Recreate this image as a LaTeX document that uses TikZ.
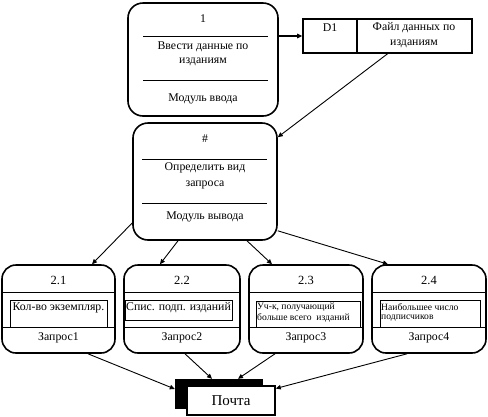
\documentclass[tikz,border=0pt]{standalone}
\usepackage{fontspec}
\setmainfont{Liberation Serif}
\usetikzlibrary{arrows.meta,calc}
\begin{document}
\begin{tikzpicture}[x=1pt,y=-1pt,
  rbox/.style={draw,line width=1.6pt,rounded corners=15pt,inner sep=0pt},
  qbox/.style={draw,line width=1.6pt,rounded corners=14pt,inner sep=0pt,minimum height=88pt},
  sep/.style={line width=0.8pt},
  irect/.style={draw,line width=0.7pt},
  lbl/.style={font=\fontsize{11.8}{14.5}\selectfont,align=center,inner sep=0pt},
  small/.style={font=\fontsize{9.6}{10.5}\selectfont,align=left,inner sep=0pt,anchor=west},
  arr/.style={line width=0.9pt,-{Triangle[length=5pt,width=4.5pt]}}]
\useasboundingbox (0,0) rectangle (488,416);
% box 1
\node[rbox,minimum width=150pt,minimum height=113pt] (b1) at (203,59.5) {};
\draw[sep] (143,36) -- (268,36);
\draw[sep] (143,80) -- (268,80);
\node[lbl] (b1n) at (203,19) {1};
\node[lbl] (b1t) at (203,54) {Ввести данные по\\изданиям};
\node[lbl] (b1m) at (203,99) {Модуль ввода};
% D1
\node[draw,line width=1.6pt,minimum width=169pt,minimum height=34pt,inner sep=0pt] (d1) at (387.5,36) {};
\draw[line width=1.6pt] (357,19) -- (357,53);
\node[lbl] (d1a) at (330,28) {D1};
\node[lbl] (d1b) at (414,35) {Файл данных по\\изданиям};
% box #
\node[rbox,minimum width=144pt,minimum height=117pt] (q) at (205,181.5) {};
\draw[sep] (142,159) -- (267,159);
\draw[sep] (142,203) -- (267,203);
\node[lbl] (qn) at (205,139) {\#};
\node[lbl,font=\fontsize{11.8}{16}\selectfont] (qt) at (205,176) {Определить вид\\запроса};
\node[lbl] (qm) at (205,217) {Модуль вывода};
% bottom boxes
\node[qbox,minimum width=113pt] (b21) at (58.5,309) {};
\node[qbox,minimum width=116pt] (b22) at (182,309) {};
\node[qbox,minimum width=114pt] (b23) at (306,309) {};
\node[qbox,minimum width=114pt] (b24) at (429,309) {};
\foreach \n in {b21,b22,b23,b24}{
  \draw[sep] (\n.west |- 0,292) -- (\n.east |- 0,292);
  \draw[sep] (\n.west |- 0,327) -- (\n.east |- 0,327);
}
\draw[irect] (10,300) rectangle (107,327);
\draw[irect] (125,300) rectangle (232,320);
\draw[irect] (256,301) rectangle (360,327);
\draw[irect] (380,300) rectangle (480,327);
\node[lbl,font=\fontsize{12.5}{14}\selectfont] (n21) at (58.5,280) {2.1};
\node[lbl,font=\fontsize{12.5}{14}\selectfont] (n22) at (182,280) {2.2};
\node[lbl,font=\fontsize{12.5}{14}\selectfont] (n23) at (306,280) {2.3};
\node[lbl,font=\fontsize{12.5}{14}\selectfont] (n24) at (429,280) {2.4};
\node[lbl] (t21) at (58.5,308) {Кол-во экземпляр.};
\node[lbl] (t22) at (178.5,308) {Спис. подп. изданий};
\node[small] (t23a) at (257,307) {Уч-к, получающий};
\node[small] (t23b) at (257,318) {больше всего\ \ изданий};
\node[small] (t24a) at (381,307) {Наибольшее число};
\node[small] (t24b) at (381,318) {подписчиков};
\node[lbl] (z1) at (58.5,338) {Запрос1};
\node[lbl] (z2) at (182,338) {Запрос2};
\node[lbl] (z3) at (306,338) {Запрос3};
\node[lbl] (z4) at (429,338) {Запрос4};
% Pochta
\node[fill=black,minimum width=88pt,minimum height=30pt,inner sep=0pt] (psh) at (219,394) {};
\node[draw,fill=white,line width=1.6pt,minimum width=88pt,minimum height=29pt,inner sep=0pt,font=\fontsize{15}{17}\selectfont] (p) at (231,400.5) {Почта};
% arrows
\draw[arr,line width=1.4pt] (b1.east |- d1.west) -- (d1.west);
\draw[arr] (d1.south) -- ([yshift=-15pt]q.north east);
\draw[arr] ([yshift=-41.5pt]q.west) -- ([xshift=33.5pt]b21.north);
\draw[arr] ([xshift=-27pt]q.south) -- ([xshift=-22pt]b22.north);
\draw[arr] ([xshift=42pt]q.south) -- ([xshift=-34pt]b23.north);
\draw[arr] ([yshift=10pt]q.south east) -- ([xshift=-41pt]b24.north);
\draw[arr] ([xshift=29.5pt]b21.south) -- ([yshift=5pt]psh.west);
\draw[arr] ([xshift=3pt]b22.south) -- ([xshift=-7pt]psh.north);
\draw[arr] ([xshift=-31pt]b23.south) -- ([xshift=19pt]psh.north);
\draw[arr] ([xshift=-22pt]b24.south) -- ([yshift=12pt]p.east);
\end{tikzpicture}
\end{document}
